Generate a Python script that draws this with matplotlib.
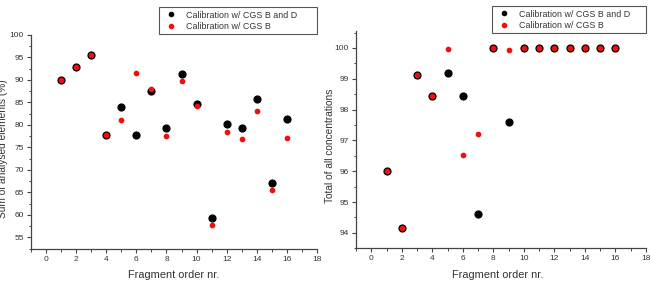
import matplotlib
matplotlib.use('Agg')
import matplotlib.pyplot as plt
from matplotlib.ticker import MultipleLocator
from matplotlib.lines import Line2D

plt.rcParams['font.family'] = ['Liberation Sans', 'DejaVu Sans']

fragments = list(range(1, 17))
sum_bd = [90.0, 92.9, 95.6, 77.8, 83.9, 77.8, 87.6, 79.3, 91.3, 84.7, 59.4, 80.2, 79.4, 85.7, 67.0, 81.3]
sum_b = [90.0, 92.9, 95.6, 77.8, 81.1, 91.5, 88.0, 77.6, 89.8, 84.3, 57.7, 78.5, 76.9, 83.1, 65.6, 77.0]
total_bd = [96.0, 94.16, 99.13, 98.43, 99.2, 98.43, 94.6, 100.0, 97.6, 100.0, 100.0, 100.0, 100.0, 100.0, 100.0, 100.0]
total_b = [96.0, 94.16, 99.13, 98.43, 99.97, 96.53, 97.2, 100.0, 99.93, 100.0, 100.0, 100.0, 100.0, 100.0, 100.0, 100.0]
labels = ['Calibration w/ CGS B and D', 'Calibration w/ CGS B']
xlabel = 'Fragment order nr.'
ylabels = ['Sum of analysed elements (%)', 'Total of all concentrations']

W, H = 651, 281
fig = plt.figure(figsize=(W / 100, H / 100), dpi=100)

BLACK = '#000000'
RED = '#ee1010'
SPINE = '#444444'
TXT = '#333333'


def px_rect(x0, x1, ytop, ybot):
    return [x0 / W, 1 - ybot / H, (x1 - x0) / W, (ybot - ytop) / H]


def style(ax, xlim, ylim, ymaj, ymin):
    ax.set_xlim(*xlim)
    ax.set_ylim(*ylim)
    for s in ['top', 'right']:
        ax.spines[s].set_visible(False)
    for s in ['left', 'bottom']:
        ax.spines[s].set_color(SPINE)
        ax.spines[s].set_linewidth(0.9)
    ax.xaxis.set_major_locator(MultipleLocator(2))
    ax.xaxis.set_minor_locator(MultipleLocator(1))
    ax.yaxis.set_major_locator(MultipleLocator(ymaj))
    ax.yaxis.set_minor_locator(MultipleLocator(ymin))
    ax.tick_params(which='major', length=3, width=0.8, color=SPINE, labelsize=6.0,
                   labelcolor=TXT, pad=2, direction='out')
    ax.tick_params(which='minor', length=1.8, width=0.7, color=SPINE, direction='out')


def add_legend(ax, x0, x1, ytop, ybot):
    handles = [Line2D([], [], ls='none', marker='o', color=BLACK, markersize=3),
               Line2D([], [], ls='none', marker='o', color=RED, markersize=3)]
    leg = fig.legend(handles, labels, loc='upper left',
                     bbox_to_anchor=(x0 / W, 1 - ybot / H, (x1 - x0) / W, (ybot - ytop) / H),
                     bbox_transform=fig.transFigure, mode='expand', borderaxespad=0,
                     fontsize=6.4, frameon=True, fancybox=False, framealpha=1,
                     edgecolor='#555555', borderpad=0.4, labelspacing=0.25,
                     handlelength=2.0, handletextpad=0.65)
    leg.get_frame().set_linewidth(0.8)
    for t in leg.get_texts():
        t.set_color(TXT)


# Left panel
ax1 = fig.add_axes(px_rect(31, 317, 35, 249))
ax1.plot(fragments, sum_bd, ls='none', marker='o', color=BLACK, markersize=4.9)
ax1.plot(fragments, sum_b, ls='none', marker='o', color=RED, markersize=3.1)
style(ax1, (-1, 18), (52.4, 100), 5, 2.5)
ax1.set_xlabel(xlabel, fontsize=7.9, color=TXT)
ax1.xaxis.set_label_coords(0.499, -0.10)
ax1.set_ylabel(ylabels[0], fontsize=7.3, color=TXT)
ax1.yaxis.set_label_coords(-0.082, 0.47)
add_legend(ax1, 159, 317, 7, 34)

# Right panel
ax2 = fig.add_axes(px_rect(356, 646, 31, 248.3))
ax2.plot(fragments, total_bd, ls='none', marker='o', color=BLACK, markersize=4.9)
ax2.plot(fragments, total_b, ls='none', marker='o', color=RED, markersize=3.1)
style(ax2, (-1, 18), (93.5, 100.55), 1, 0.5)
ax2.set_xlabel(xlabel, fontsize=7.9, color=TXT)
ax2.xaxis.set_label_coords(0.488, -0.10)
ax2.set_ylabel(ylabels[1], fontsize=7.3, color=TXT)
ax2.yaxis.set_label_coords(-0.072, 0.472)
add_legend(ax2, 492, 646, 6, 34)

fig.savefig('out.png', dpi=100)
